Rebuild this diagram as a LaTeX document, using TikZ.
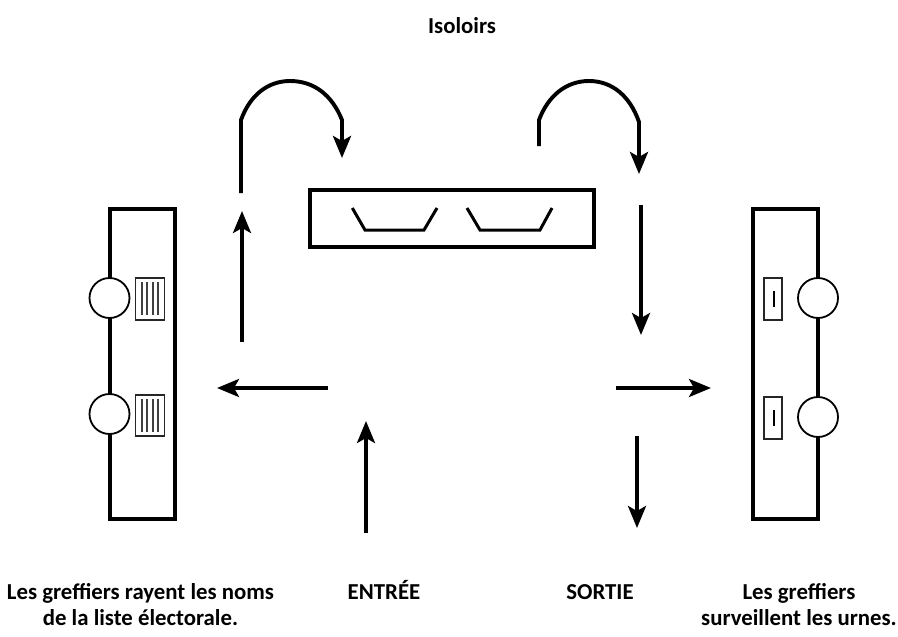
\documentclass[tikz,border=0pt]{standalone}
\usepackage{fontspec}
\setmainfont{Carlito}
\usetikzlibrary{arrows.meta}
\tikzset{
  wall/.style={line width=4pt,draw=black,miter limit=10},
  wicket/.style={draw=black,fill=white,line width=1.8pt},
  paper/.style={draw=black!85,fill=white,line width=1.5pt},
  rule/.style={draw=black!75,line width=1.1pt},
  route/.style={line width=3.5pt,draw=black,-{Stealth[length=22pt,width=18pt,inset=5pt]}},
  arcroute/.style={route,line width=3.9pt},
  caption/.style={font=\fontsize{22.8}{26}\selectfont\bfseries,align=center,text=black,inner sep=0pt}
}
\begin{document}
\begin{tikzpicture}[x=1pt,y=-1pt]
\useasboundingbox (0,0) rectangle (898,637);
% left table
\draw[wall] (110,209) rectangle (175,519);
\node[wicket,circle,minimum size=40pt,inner sep=0pt] (cl1) at (109.5,298) {};
\node[wicket,circle,minimum size=40pt,inner sep=0pt] (cl2) at (109.5,414) {};
\draw[paper] (135.7,278) rectangle (164.7,320);
\draw[paper] (135.7,395) rectangle (164.7,436);
\foreach \x in {142,147,153,158}{
  \draw[rule] (\x,282) -- (\x,315);
  \draw[rule] (\x,399) -- (\x,432);
}
% right table
\draw[wall] (752.7,209) rectangle (817.7,519);
\node[wicket,circle,minimum size=40pt,inner sep=0pt] (cr1) at (818,298) {};
\node[wicket,circle,minimum size=40pt,inner sep=0pt] (cr2) at (818,417) {};
\draw[paper] (764,278) rectangle (782,320);
\draw[paper] (764,397) rectangle (782,439);
\draw[rule,draw=black,line width=1.8pt] (774,291) -- (774,307);
\draw[rule,draw=black,line width=1.8pt] (774,410) -- (774,426);
% booths
\draw[line width=3.6pt] (310,190) rectangle (594,247);
\draw[line width=3pt,miter limit=10] (352.3,208) -- (365,230) -- (424,230) -- (437,208);
\draw[line width=3pt,miter limit=10] (467,208) -- (480,230) -- (540,230) -- (552,208);
% routes
\coordinate (a1) at (241,193);
\coordinate (a2) at (342,158);
\draw[arcroute] (a1) -- (241,120) .. controls (250,95) and (268,81) .. (290,81)
  .. controls (314,81) and (332,95) .. (342,120) -- (a2);
\coordinate (b1) at (539,146);
\coordinate (b2) at (639,174);
\draw[arcroute] (b1) -- (539,120) .. controls (548,96) and (566,81) .. (589,81)
  .. controls (612,81) and (630,96) .. (639,122) -- (b2);
\coordinate (c1) at (242,342);
\coordinate (c2) at (242,211);
\draw[route] (c1) -- (c2);
\coordinate (d1) at (641,205);
\coordinate (d2) at (641,335);
\draw[route] (d1) -- (d2);
\coordinate (e1) at (328,388);
\coordinate (e2) at (217,388);
\draw[route] (e1) -- (e2);
\coordinate (f1) at (366,533);
\coordinate (f2) at (366,421);
\draw[route] (f1) -- (f2);
\coordinate (g1) at (616,388);
\coordinate (g2) at (711,388);
\draw[route] (g1) -- (g2);
\coordinate (h1) at (637,436);
\coordinate (h2) at (637,528);
\draw[route] (h1) -- (h2);
% labels
\node[caption,anchor=base] (isoloirs) at (462,33) {Isoloirs};
\node[caption,anchor=base] (greffiersg) at (140.5,599) {Les greffiers rayent les noms};
\node[caption,anchor=base] (greffiersgb) at (140.5,625) {de la liste électorale.};
\node[caption,anchor=base] (entree) at (384,599) {ENTRÉE};
\node[caption,anchor=base] (sortie) at (600,599) {SORTIE};
\node[caption,anchor=base] (greffiersd) at (799,599) {Les greffiers};
\node[caption,anchor=base] (greffiersdb) at (799,625) {surveillent les urnes.};
\end{tikzpicture}
\end{document}
